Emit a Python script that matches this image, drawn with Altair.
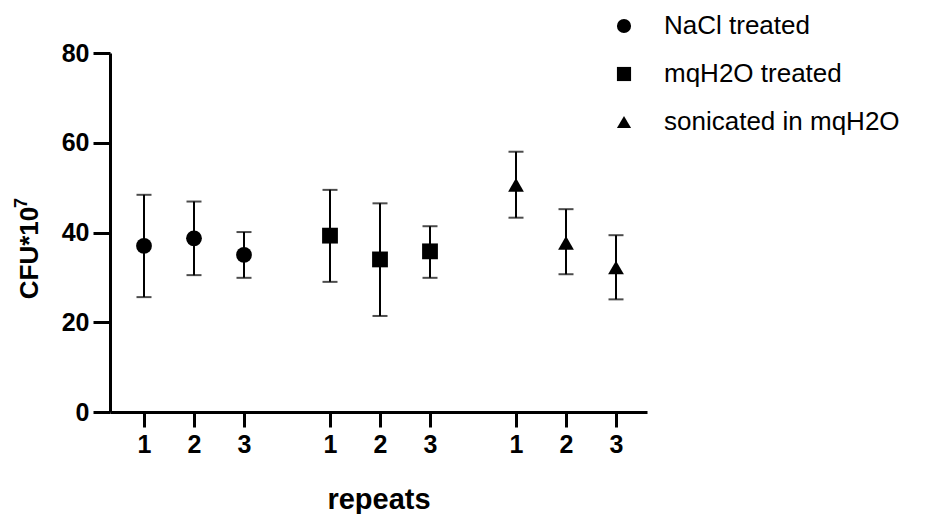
import altair as alt
import pandas as pd

groups = ["NaCl treated", "mqH2O treated", "sonicated in mqH2O"]
repeats = [1, 2, 3]
means = [37.0, 38.7, 35.0, 39.3, 34.0, 35.8, 50.6, 37.7, 32.2]
upper = [48.4, 46.9, 40.1, 49.5, 46.5, 41.4, 58.0, 45.2, 39.4]
lower = [25.6, 30.5, 29.9, 29.0, 21.4, 29.9, 43.3, 30.7, 25.1]
y_ticks = [0, 20, 40, 60, 80]

GAP = 3.72
rows = []
i = 0
for g, name in enumerate(groups):
    for r in repeats:
        rows.append(dict(group=name, rep=r, pos=r + g * GAP,
                         mean=means[i], hi=upper[i], lo=lower[i]))
        i += 1
df = pd.DataFrame(rows)
tick_pos = list(df["pos"])

FONT = "Liberation Sans"

xs = alt.X("pos:Q", scale=alt.Scale(domain=[0.32, 11.06], nice=False, zero=False),
           axis=alt.Axis(values=tick_pos,
                         labelExpr="format(datum.value - 3.72*floor((datum.value - 0.5)/3.72), '.0f')",
                         title="repeats", grid=False, domainWidth=3, domainColor="black",
                         tickWidth=3, tickColor="black", tickSize=15,
                         labelFont=FONT, labelFontSize=25, labelFontWeight="bold",
                         labelColor="black", labelPadding=5,
                         titleFont=FONT, titleFontSize=29, titleFontWeight="bold",
                         titleColor="black", titlePadding=28))
ys = alt.Y("mean:Q", scale=alt.Scale(domain=[0, 80], nice=False),
           axis=alt.Axis(values=y_ticks, title=None, grid=False, domainWidth=3,
                         domainColor="black", tickWidth=3, tickColor="black",
                         tickSize=17, labelFont=FONT, labelFontSize=25,
                         labelFontWeight="bold", labelColor="black", labelPadding=4))

base = alt.Chart(df)

bars = base.mark_rule(color="black", strokeWidth=2).encode(
    x=xs, y=alt.Y("lo:Q"), y2="hi:Q")
cap_hi = base.mark_tick(color="black", orient="horizontal", size=15, thickness=2).encode(
    x="pos:Q", y="hi:Q")
cap_lo = base.mark_tick(color="black", orient="horizontal", size=15, thickness=2).encode(
    x="pos:Q", y="lo:Q")
pts = base.mark_point(filled=True, color="black", opacity=1, size=250).encode(
    x="pos:Q", y=ys,
    shape=alt.Shape("group:N", scale=alt.Scale(domain=groups,
                    range=["circle", "square", "triangle-up"]),
                    sort=groups,
                    legend=alt.Legend(title=None, orient="none", legendX=501, legendY=-40,
                                      labelFont=FONT, labelFontSize=26, labelColor="black",
                                      labelLimit=0,
                                      symbolSize=200, symbolFillColor="black",
                                      symbolStrokeColor="black", symbolOpacity=1,
                                      rowPadding=22, labelOffset=27, padding=0)))

title_main = alt.Chart(pd.DataFrame({"t": ["CFU*10"]})).mark_text(
    angle=270, font=FONT, fontSize=26, fontWeight="bold", color="black",
    align="center", baseline="middle").encode(
    text="t:N", x=alt.value(-80), y=alt.value(200))
title_sup = alt.Chart(pd.DataFrame({"t": ["7"]})).mark_text(
    angle=270, font=FONT, fontSize=18, fontWeight="bold", color="black",
    align="center", baseline="middle").encode(
    text="t:N", x=alt.value(-88), y=alt.value(150))

chart = alt.layer(bars, cap_hi, cap_lo, pts, title_main, title_sup).properties(
    width=537, height=359,
    autosize=alt.AutoSizeParams(type="none"),
    padding={"left": 102, "top": 45, "right": 280, "bottom": 102},
    background="white",
).configure_view(stroke=None)

chart.save("out.html", embed_options={"renderer": "svg", "actions": False})
